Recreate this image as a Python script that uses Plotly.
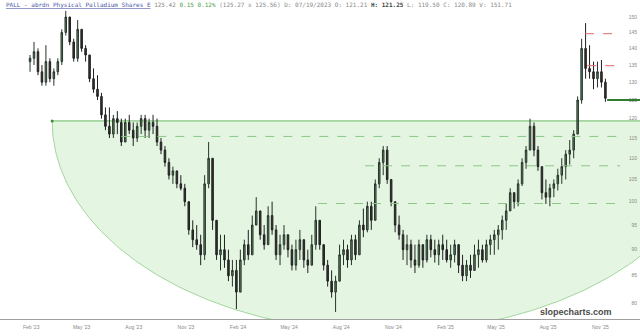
import numpy as np
import pandas as pd
import plotly.graph_objects as go

# ---------------- data (weekly candles) ----------------
start_week = "2023-01-30"
opens = [136,137,139,133,130,136,131,133,136,145,150,142,137,146,140,138,131,128,126,121,
         118,116,120,119,114,119,117,115,118,120,117,119,118,114,112,109,106,107,104,103,
         100,94,92,91,89,104,110,96,89,90,88,85,86,82,88,91,89,95,98,93,
         91,97,94,89,91,93,90,87,90,92,88,87,91,96,91,87,84,82,84,89,
         90,88,92,89,95,94,99,96,104,109,112,105,100,95,93,90,91,88,87,91,
         88,92,90,89,91,90,88,89,91,87,85,87,86,89,90,88,91,92,93,94,
         96,98,102,100,104,109,112,118,112,108,102,101,103,104,106,108,111,112,116,125,
         140,134,133,131,133,130]
highs = [138,142,140,135,141,137,134,137,146,152,150,143,149,146,141,138,134,132,127,123,
         123,121,122,120,120,121,119,119,121,121,120,121,120,115,113,110,108,107,106,104,
         100,96,95,93,106,114,110,96,93,93,90,88,88,90,92,94,97,101,98,95,
         99,100,95,93,95,93,91,92,94,92,90,93,99,96,91,88,86,85,91,92,
         91,93,93,96,98.5,100,100,105,110,113,113,105,100,97,94,93,92,91,92,91,
         93,93,92,92,93,92,91,92,91,89,88,89,91,92,91,92,93,94,95,97,
         99.5,103,102,105,110,113,120,119,113,108,105,104,105,107.5,110,112,114.5,117,126,143,
         148,141,136,136,136.5,131]
lows = [133,135,132,129,129,130,129,132,135,144,141,136,136,139,136,130,127,125,120,117,
        115,115,116,113,114,116,113,114,116,115,115,116,113,111,108,105,104,103,102.5,99,
        93,90.5,90,87,88,103,94,88,86,86.5,84,83,79,82,87,88,89,95,92,90,
        91,93,88,87,90,88.5,86,86,88,86.5,85.5,87,90,90,86,83,81,78.5,84,87,
        86.5,87,88,89,92.5,93.5,94,96,103,106,104,99,93.5,92,88,87,86.5,85.5,86.5,86.5,
        87.5,88.5,87.5,87,88,87.5,86.5,87.5,85.5,84,84,84.6,86,86.5,87.5,87.5,89,89,90,92,
        94,98,98.5,99,103.5,107.5,112,110.5,107,100.5,99.5,99,101,102.5,104,105,108.5,110,116,124,
        131,131,128,128.5,128.5,124.5]
closes = [137,139,133,130,136,131,133,136,145,150,142,137,146,140,138,131,128,126,121,118,
          116,120,119,114,119,117,115,118,120,117,119,118,114,112,109,106,107,104,103,100,
          94,92,91,89,104,110,96,89,90,88,85,86,82,88,91,89,95,98,93,91,
          97,94,89,91,93,90,87,90,92,88,87,91,96,91,87,84,82,84,89,90,
          88,92,89,95,94,99,96,104,109,112,105,100,95,93,90,91,88,87,91,88,
          92,90,89,91,90,88,89,91,87,85,87,86,89,90,88,91,92,93,94,96,
          98,102,100,104,109,112,118,112,108,102,101,103,104,106,108,111,112,116,125,140,
          134,133,131,133,130,125.5]

# horizontal level lines: price, start date, kind
level_prices = [144.6, 134.8, 115.4, 108.2, 99.6]
level_starts = ["2025-10-05", "2025-10-09", "2023-07-10", "2024-09-12", "2024-06-21"]
level_kinds = ["resistance", "resistance", "support", "support", "support"]
level_end = "2025-12-06"

# rounded-bottom (bowl) annotation
bowl_level = 119.4
bowl_start = "2023-03-10"
bowl_center = "2024-10-17"
bowl_bottom = 75.1

last_price = 125.0
last_price_start = "2025-11-13"

x_tick_dates = ["2023-02-01", "2023-05-01", "2023-08-01", "2023-11-01", "2024-02-01", "2024-05-01",
                "2024-08-01", "2024-11-01", "2025-02-01", "2025-05-01", "2025-08-01", "2025-11-01"]
x_tick_text = ["Feb '23", "May '23", "Aug '23", "Nov '23", "Feb '24", "May '24",
               "Aug '24", "Nov '24", "Feb '25", "May '25", "Aug '25", "Nov '25"]
y_ticks = [80, 85, 90, 95, 100, 105, 110, 115, 120, 125, 130, 135, 140, 145, 150]

x_range = ["2022-12-08", "2026-01-10"]
y_range = [77.3, 155.7]

# ---------------- figure ----------------
dates = pd.date_range(start_week, periods=len(opens), freq="7D")

fig = go.Figure()

# bowl: ellipse in (date, log price) space, mapped to a unit underlay subplot
xr0, xr1 = pd.Timestamp(x_range[0]), pd.Timestamp(x_range[1])
ly0, ly1 = np.log10(y_range[0]), np.log10(y_range[1])


def ux(ts):
    return (pd.Timestamp(ts) - xr0) / (xr1 - xr0)


def uy(p):
    return (np.log10(p) - ly0) / (ly1 - ly0)


cx = ux(bowl_center)
hw = cx - ux(bowl_start)
t = np.linspace(0, np.pi, 240)
bx = cx - hw * np.cos(t)
ytop = uy(bowl_level)
ybot = uy(bowl_bottom)
by = ytop - (ytop - ybot) * np.sin(t)
fig.add_trace(go.Scatter(x=np.append(bx, bx[0]), y=np.append(by, by[0]), mode="lines",
                         fill="toself", fillcolor="#e4f6e1",
                         line=dict(color="#a3d69e", width=1), hoverinfo="skip",
                         showlegend=False, xaxis="x", yaxis="y"))
fig.add_trace(go.Scatter(x=[bx[0], 1.2], y=[ytop, ytop], mode="lines",
                         line=dict(color="#8fcb8c", width=1), hoverinfo="skip",
                         showlegend=False, xaxis="x", yaxis="y"))
fig.add_trace(go.Scatter(x=[bx[0]], y=[ytop], mode="markers",
                         marker=dict(color="#3f8a3f", size=3), hoverinfo="skip",
                         showlegend=False, xaxis="x", yaxis="y"))

fig.add_trace(go.Candlestick(x=dates, open=opens, high=highs, low=lows, close=closes,
                             increasing=dict(line=dict(color="#26352a", width=1), fillcolor="#5f8063"),
                             decreasing=dict(line=dict(color="#202020", width=1), fillcolor="#333333"),
                             whiskerwidth=0, showlegend=False, xaxis="x2", yaxis="y2"))

for p, s, k in zip(level_prices, level_starts, level_kinds):
    col = "#e06a66" if k == "resistance" else "#8cc787"
    fig.add_shape(type="line", xref="x2", yref="y2", x0=s, x1=level_end, y0=p, y1=p,
                  line=dict(color=col, width=1, dash="dash"), layer="above")

fig.add_shape(type="line", xref="x2", yref="y2", x0=last_price_start, x1=x_range[1],
              y0=last_price, y1=last_price, line=dict(color="#2e7d32", width=2))

title_html = ('<span style="color:#4a55a8"><u>PALL - abrdn Physical Palladium Shares E</u></span> '
              '<span style="color:#888">125.42</span> '
              '<span style="color:#4aa04a">0.15 0.12%</span> '
              '<span style="color:#888">(125.27 x 125.56) D: 07/19/2023 O: 121.21</span> '
              '<b style="color:#444">H: 121.25</b> '
              '<span style="color:#888">L: 119.50 C: 120.89 V: 151.71</span>')
fig.add_annotation(x=0.006, y=0.985, xref="paper", yref="paper", xanchor="left", yanchor="middle",
                   text=title_html, showarrow=False,
                   font=dict(family="DejaVu Sans Mono", size=6, color="#888"))

fig.add_annotation(x=0.96, y=0.0, xref="paper", yref="paper", xanchor="right", yanchor="bottom",
                   text="<b>slopecharts.com</b>", showarrow=False,
                   font=dict(family="Liberation Sans, Arial", size=9, color="#4a4a4a"))

fig.update_layout(
    width=640, height=336,
    margin=dict(l=0, r=0, t=0, b=17),
    paper_bgcolor="white", plot_bgcolor="white",
    showlegend=False, boxgap=0.45,
    xaxis=dict(range=[0, 1], visible=False, fixedrange=True),
    yaxis=dict(range=[0, 1], visible=False, fixedrange=True),
    xaxis2=dict(type="date", range=x_range, overlaying="x", side="bottom",
                rangeslider=dict(visible=False),
                tickvals=x_tick_dates, ticktext=x_tick_text, showgrid=False, zeroline=False,
                showline=True, linecolor="#a0a0a0", linewidth=1, ticks="outside", ticklen=3,
                tickcolor="rgba(0,0,0,0)",
                tickfont=dict(family="Liberation Sans, Arial", size=5, color="#888")),
    yaxis2=dict(type="log", range=[ly0, ly1], side="right", overlaying="y",
                tickvals=y_ticks, ticktext=[str(v) for v in y_ticks], showgrid=False, zeroline=False,
                ticklabelposition="inside", ticks="",
                tickfont=dict(family="Liberation Sans, Arial", size=5, color="#888")),
)

fig.write_html("out.html")
